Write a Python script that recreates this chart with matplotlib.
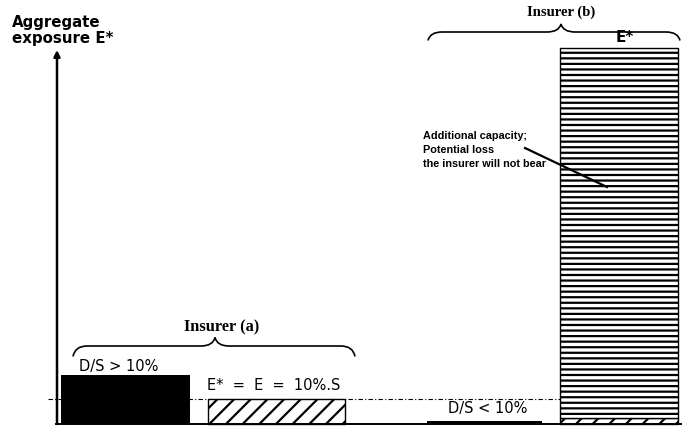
import matplotlib
matplotlib.use("Agg")
import matplotlib.pyplot as plt
from matplotlib.path import Path
from matplotlib.patches import PathPatch

# exposure values (E = 10 % of S taken as 10 units)
categories = ["D/S > 10%", "E*  =  E  =  10%.S", "D/S < 10%", "E*"]
exposure = [19.6, 10.0, 1.4, 150.4]
retained_b = 2.4          # part of insurer (b)'s E* it actually bears
threshold = 10.0          # E = 10%.S

# layout (x in pixels of the 683 px wide figure)
bar_x = [125.5, 276.5, 484.5, 619]
bar_w = [129, 137, 115, 118]

plt.rcParams["hatch.linewidth"] = 1.6
sans = "DejaVu Sans"
arial = "Liberation Sans"
serif = "Liberation Serif"


def brace(ax, x0, x1, xm, y, h, d, lw=1.2):
    # curly brace: ends drop by d, tip rises by h at xm
    w = 14
    verts = [(x0, y - d), (x0 + 2, y), (x0 + w, y),
             (xm - w, y), (xm - 2, y), (xm, y + h),
             (xm + 2, y), (xm + w, y),
             (x1 - w, y), (x1 - 2, y), (x1, y - d)]
    codes = [Path.MOVETO, Path.CURVE3, Path.CURVE3,
             Path.LINETO, Path.CURVE3, Path.CURVE3,
             Path.CURVE3, Path.CURVE3,
             Path.LINETO, Path.CURVE3, Path.CURVE3]
    ax.add_patch(PathPatch(Path(verts, codes), fill=False, lw=lw, color="black"))


fig = plt.figure(figsize=(6.83, 4.29), dpi=100)
ax = fig.add_axes([0, 0, 1, 1])
ax.set_xlim(0, 683)
ax.set_ylim(-2, 169.6)
ax.axis("off")

# threshold line E = 10%.S
ax.plot([48, 678], [threshold, threshold], color="black", lw=0.8,
        ls=(0, (4, 2, 1, 2)), zorder=1)

# bars
ax.bar(bar_x[0], exposure[0], bar_w[0], color="black", zorder=2)
ax.bar(bar_x[1], exposure[1], bar_w[1], facecolor="white", edgecolor="black",
       hatch="//", lw=1, zorder=2)
ax.bar(bar_x[2], exposure[2], bar_w[2], color="black", zorder=2)
ax.bar(bar_x[3], retained_b, bar_w[3], facecolor="white", edgecolor="black",
       hatch="//", lw=1, zorder=2)
ax.bar(bar_x[3], exposure[3] - retained_b, bar_w[3], bottom=retained_b,
       facecolor="white", edgecolor="black", hatch="---", lw=1, zorder=2)

# axes
ax.plot([56, 681], [0, 0], color="black", lw=1.4, zorder=3)
ax.annotate("", xy=(57, 149.6), xytext=(57, 0),
            arrowprops=dict(arrowstyle="-|>", color="black", lw=1.8,
                            mutation_scale=9, shrinkA=0, shrinkB=0))
ax.text(12, 163.4, "Aggregate\nexposure E*", ha="left", va="top",
        fontsize=10.8, fontweight="bold", family=sans, linespacing=1.0)

# braces and group labels
brace(ax, 73, 355, 215, 31.2, 3.4, 4.2)
ax.text(222, 38.8, "Insurer (a)", ha="center", va="center",
        fontsize=11.8, fontweight="bold", family=serif)
brace(ax, 428, 680, 561, 156.8, 3.2, 3.4)
ax.text(561, 164.8, "Insurer (b)", ha="center", va="center",
        fontsize=10.5, fontweight="bold", family=serif)

# bar labels
ax.text(79, 22.8, categories[0], ha="left", va="center",
        fontsize=10.5, family=sans)
ax.text(207, 15.6, categories[1], ha="left", va="center",
        fontsize=10.5, family=sans)
ax.text(448, 6.4, categories[2], ha="left", va="center",
        fontsize=10.5, family=sans)
ax.text(625, 154.4, categories[3], ha="center", va="center",
        fontsize=11, fontweight="bold", family=sans)

# annotation for the extra capacity
ax.text(423, 109.6, "Additional capacity;\nPotential loss\nthe insurer will not bear",
        ha="left", va="center", fontsize=7.8, fontweight="bold", family=arial,
        linespacing=1.45)
ax.plot([525, 607], [110.4, 94.8], color="black", lw=1.6, zorder=4)

fig.savefig("out.png", dpi=100)
